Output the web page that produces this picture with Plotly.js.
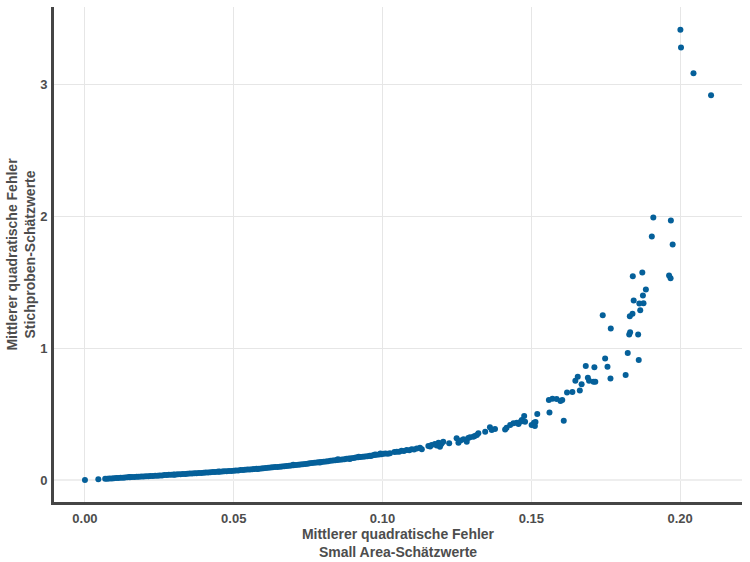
<!DOCTYPE html>
<html>
<head>
<meta charset="utf-8">
<script src="https://cdn.plot.ly/plotly-3.0.1.min.js"></script>
<style>html,body{margin:0;padding:0;background:#fff;}#chart{width:750px;height:562px;}</style>
</head>
<body>
<div id="chart"></div>
<script>
// MSE of small area estimates (x) vs MSE of direct sample estimates (y)
const mseSAE = [
0.0000,0.0045,0.0068,0.0075,0.0082,0.0090,0.0097,0.0105,0.0112,0.0120,0.0128,0.0135,0.0143,0.0151,0.0158,0.0166,0.0174,0.0181,0.0189,0.0197,
0.0205,0.0213,0.0220,0.0228,0.0236,0.0244,0.0251,0.0259,0.0267,0.0275,0.0282,0.0290,0.0298,0.0306,0.0313,0.0321,0.0329,0.0337,0.0344,0.0352,
0.0360,0.0368,0.0375,0.0383,0.0391,0.0399,0.0406,0.0414,0.0422,0.0430,0.0437,0.0445,0.0453,0.0461,0.0468,0.0476,0.0484,0.0492,0.0500,0.0507,
0.0515,0.0523,0.0531,0.0538,0.0546,0.0554,0.0562,0.0569,0.0577,0.0585,0.0593,0.0600,0.0608,0.0616,0.0624,0.0631,0.0639,0.0647,0.0655,0.0662,
0.0670,0.0678,0.0686,0.0693,0.0701,0.0709,0.0717,0.0724,0.0732,0.0740,0.0748,0.0755,0.0763,0.0771,0.0779,0.0786,0.0794,0.0802,0.0810,0.0817,
0.0825,0.0833,0.0841,0.0848,0.0856,0.0864,0.0872,0.0879,0.0887,0.0895,0.0903,0.0910,0.0918,0.0926,0.0934,0.0941,0.0949,0.0957,0.0965,0.0972,
0.0980,0.0988,0.0996,
0.0150,0.0300,0.0450,0.0580,0.0700,0.0790,0.0850,0.0890,0.0920,0.0960,0.0975,0.0993,
0.1003,0.1010,0.1018,0.1025,0.1040,0.1048,0.1056,0.1064,0.1072,0.1081,0.1090,0.1098,0.1106,0.1115,0.1126,0.1132,
0.1154,0.1160,0.1165,0.1176,0.1182,0.1188,0.1193,0.1196,0.1199,0.1204,0.1224,
0.1249,0.1255,0.1262,0.1272,0.1283,0.1288,0.1294,0.1305,0.1310,0.1317,0.1322,
0.1345,0.1361,0.1367,0.1378,
0.1412,0.1417,0.1429,0.1440,0.1451,0.1457,0.1465,0.1468,0.1476,0.1479,
0.1501,0.1509,0.1512,0.1514,0.1520,0.1561,0.1609,
0.1559,0.1571,0.1585,0.1598,0.1604,
0.1620,0.1638,0.1663,0.1669,0.1648,0.1656,0.1690,0.1694,0.1709,0.1715,0.1766,0.1817,
0.1683,0.1712,0.1756,0.1748,0.1824,0.1861,
0.1829,0.1832,0.1859,0.1767,0.1740,0.1831,0.1840,0.1866,0.1863,0.1877,0.1844,
0.1875,0.1885,0.1841,0.1873,0.1963,0.1968,
0.1905,0.1975,0.1910,0.1969,
0.2001,0.2003,0.2045,0.2104
];
const mseDirect = [
0.000,0.006,0.009,0.010,0.011,0.012,0.013,0.015,0.016,0.017,0.018,0.019,0.020,0.021,0.022,0.023,0.024,0.025,0.026,0.027,
0.028,0.029,0.030,0.031,0.032,0.033,0.034,0.035,0.037,0.038,0.039,0.040,0.041,0.042,0.043,0.044,0.045,0.046,0.047,0.049,
0.050,0.051,0.052,0.053,0.054,0.055,0.056,0.057,0.059,0.060,0.061,0.062,0.063,0.064,0.066,0.067,0.068,0.069,0.071,0.072,
0.073,0.075,0.076,0.078,0.079,0.080,0.082,0.083,0.085,0.086,0.088,0.089,0.091,0.093,0.094,0.096,0.098,0.099,0.101,0.103,
0.105,0.107,0.108,0.110,0.112,0.114,0.116,0.118,0.120,0.122,0.124,0.127,0.129,0.131,0.133,0.135,0.137,0.139,0.141,0.143,
0.146,0.148,0.150,0.152,0.154,0.156,0.158,0.161,0.163,0.165,0.167,0.170,0.172,0.174,0.177,0.179,0.181,0.184,0.186,0.189,
0.191,0.194,0.196,
0.023,0.039,0.065,0.083,0.115,0.133,0.157,0.160,0.176,0.182,0.193,0.201,
0.199,0.201,0.199,0.203,0.212,0.215,0.214,0.222,0.221,0.227,0.226,0.233,0.232,0.240,0.245,0.233,
0.258,0.255,0.265,0.273,0.262,0.283,0.252,0.270,0.278,0.290,0.278,
0.316,0.283,0.300,0.309,0.290,0.318,0.324,0.328,0.333,0.341,0.354,
0.366,0.400,0.379,0.387,
0.384,0.396,0.417,0.430,0.435,0.425,0.444,0.455,0.485,0.442,
0.417,0.434,0.409,0.440,0.500,0.513,0.450,
0.607,0.616,0.614,0.599,0.607,
0.665,0.667,0.680,0.726,0.753,0.783,0.776,0.753,0.745,0.745,0.771,0.796,
0.865,0.855,0.859,0.923,0.963,0.910,
1.105,1.122,1.105,1.150,1.251,1.243,1.261,1.289,1.340,1.342,1.363,
1.400,1.446,1.547,1.575,1.552,1.532,
1.848,1.787,1.992,1.969,
3.417,3.283,3.088,2.921
];
const xTickVals = [0, 0.05, 0.10, 0.15, 0.20];
const xTickText = ['0.00', '0.05', '0.10', '0.15', '0.20'];
const yTickVals = [0, 1, 2, 3];
const yTickText = ['0', '1', '2', '3'];
const xTitle = 'Mittlerer quadratische Fehler<br>Small Area-Schätzwerte';
const yTitle = 'Mittlerer quadratische Fehler<br>Stichproben-Schätzwerte';

const fontFam = 'Liberation Sans, Arial, sans-serif';
const textCol = '#4d4d4d';

const trace = {
  type: 'scatter', mode: 'markers',
  x: mseSAE, y: mseDirect,
  marker: {size: 6, color: '#05609a', line: {width: 0}},
  hoverinfo: 'x+y', showlegend: false
};

const layout = {
  width: 750, height: 562,
  margin: {l: 54, r: 8, t: 7, b: 60, pad: 0},
  paper_bgcolor: '#ffffff', plot_bgcolor: '#ffffff',
  font: {family: fontFam, color: textCol},
  xaxis: {
    range: [-0.0104, 0.2208],
    tickvals: xTickVals, ticktext: xTickText,
    tickfont: {family: fontFam, size: 13, color: textCol, weight: 'bold'},
    ticks: '', ticklabelstandoff: 2,
    showgrid: true, gridcolor: '#e6e6e6', gridwidth: 1,
    zeroline: false,
    showline: true, linecolor: '#454545', linewidth: 3,
    title: {text: xTitle, font: {family: fontFam, size: 14, color: textCol, weight: 'bold'}, standoff: 3},
    automargin: false
  },
  yaxis: {
    range: [-0.167, 3.59],
    tickvals: yTickVals, ticktext: yTickText,
    tickfont: {family: fontFam, size: 13, color: textCol, weight: 'bold'},
    ticks: '', ticklabelstandoff: 1,
    showgrid: true, gridcolor: '#e6e6e6', gridwidth: 1,
    zeroline: true, zerolinecolor: '#eeeeee', zerolinewidth: 2,
    showline: true, linecolor: '#454545', linewidth: 3,
    title: {text: yTitle, font: {family: fontFam, size: 14, color: textCol, weight: 'bold'}, standoff: 2},
    automargin: false
  }
};

Plotly.newPlot('chart', [trace], layout, {displayModeBar: false, staticPlot: true});
</script>
</body>
</html>
